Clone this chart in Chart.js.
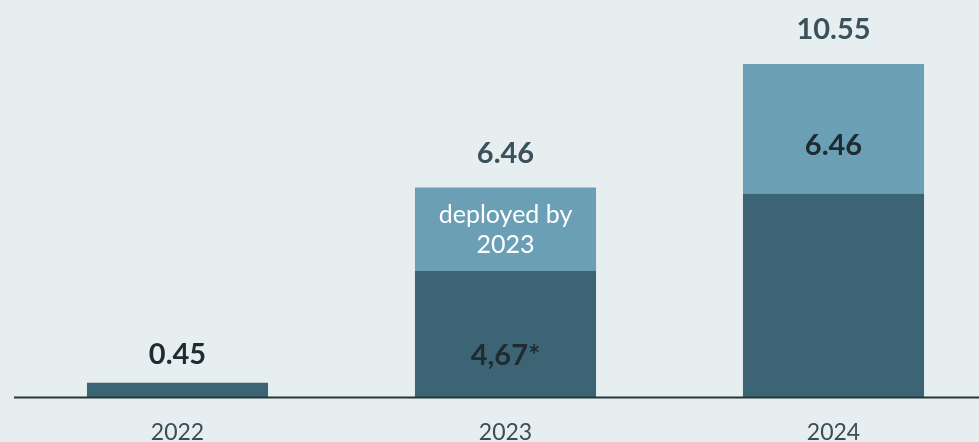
<!DOCTYPE html>
<html>
<head>
<meta charset="utf-8">
<script src="https://cdn.jsdelivr.net/npm/chart.js@4.4.1/dist/chart.umd.min.js"></script>
<style>
  html, body { margin: 0; padding: 0; background: #e7eef0; overflow: hidden; }
  #wrap { width: 979px; height: 442px; overflow: hidden; }
</style>
</head>
<body>
<div id="wrap"><canvas id="c" width="1000" height="442"></canvas></div>
<script>
// data (segment heights as drawn)
const years = ['2022', '2023', '2024'];
const baseValues = [0.45, 3.89, 6.28];
const addedValues = [0, 2.57, 3.98];
const totalLabels = ['0.45', '6.46', '10.55'];
const innerLabels = ['', '4,67*', ''];
const addedLabels = ['', '', '6.46'];
const noteLines = ['deployed by', '2023'];

const dark = '#3d6475';
const light = '#6a9fb5';

const labelsPlugin = {
  id: 'labels',
  afterDatasetsDraw(chart) {
    const ctx = chart.ctx;
    const x = chart.scales.x, y = chart.scales.y;
    const y0 = y.getPixelForValue(0);
    const baseMeta = chart.getDatasetMeta(0);
    const addMeta = chart.getDatasetMeta(1);
    ctx.save();
    // axis line
    ctx.strokeStyle = '#26363c';
    ctx.lineWidth = 2;
    ctx.beginPath();
    ctx.moveTo(14, y0);
    ctx.lineTo(chart.width, y0);
    ctx.stroke();

    ctx.textAlign = 'center';
    ctx.textBaseline = 'middle';
    // year labels
    ctx.font = '23px Lato';
    ctx.fillStyle = '#3b4d55';
    years.forEach((yr, i) => {
      ctx.fillText(yr, x.getPixelForValue(i), y0 + 35);
    });

    ctx.font = 'bold 29px Lato';
    years.forEach((yr, i) => {
      const cx = x.getPixelForValue(i);
      const top = y.getPixelForValue(baseValues[i] + addedValues[i]);
      ctx.fillStyle = i == 0 ? '#1e2b30' : '#3a525b';
      // the short 2022 bar has its label a bit closer
      ctx.fillText(totalLabels[i], cx, top - (i == 0 ? 28 : 34));
      const b = baseMeta.data[i];
      if (innerLabels[i]) {
        ctx.fillStyle = '#1e2b30';
        ctx.fillText(innerLabels[i], cx, (b.y + b.base) / 2 + 21);
      }
      const a = addMeta.data[i];
      if (addedLabels[i]) {
        ctx.fillStyle = '#1e2b30';
        ctx.fillText(addedLabels[i], cx, (a.y + a.base) / 2 + 17);
      }
    });

    // note inside 2023 added segment
    const n = addMeta.data[1];
    const mid = (n.y + n.base) / 2;
    ctx.font = '25px Lato';
    ctx.fillStyle = '#ffffff';
    ctx.fillText(noteLines[0], n.x, mid - 14);
    ctx.fillText(noteLines[1], n.x, mid + 16);
    ctx.restore();
  }
};

new Chart(document.getElementById('c'), {
  type: 'bar',
  data: {
    labels: years,
    datasets: [
      { data: baseValues, backgroundColor: dark, categoryPercentage: 0.552, barPercentage: 1 },
      { data: addedValues, backgroundColor: light, categoryPercentage: 0.552, barPercentage: 1 }
    ]
  },
  options: {
    responsive: false,
    animation: false,
    layout: { padding: { left: 13.5, right: 2.5, top: 0, bottom: 44.5 } },
    plugins: { legend: { display: false }, tooltip: { enabled: false } },
    scales: {
      x: { stacked: true, display: false },
      y: { stacked: true, display: false, min: 0, max: 12.23 }
    }
  },
  plugins: [labelsPlugin]
});
</script>
</body>
</html>
